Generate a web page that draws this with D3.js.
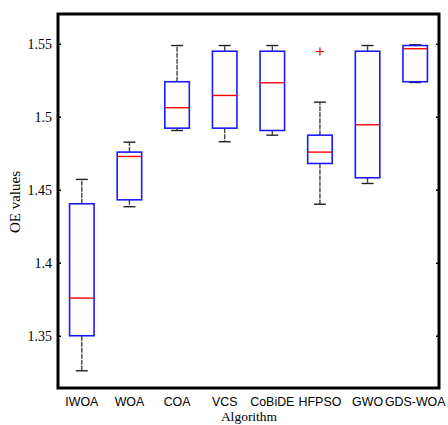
<!DOCTYPE html>
<html lang="en">
<head>
<meta charset="UTF-8">
<title>OE values boxplot</title>
<script src="https://d3js.org/d3.v7.min.js"></script>
<style>
  body { margin: 0; background: #fff; }
  svg { display: block; }
  .serif { font-family: "Liberation Serif", "Times New Roman", serif; }
  .sans { font-family: "Liberation Sans", Arial, sans-serif; }
</style>
</head>
<body>
<svg id="chart" width="448" height="425"></svg>
<script>
// data
const algorithms = ['IWOA', 'WOA', 'COA', 'VCS', 'CoBiDE', 'HFPSO', 'GWO', 'GDS-WOA'];
const whiskerLow = [1.326, 1.4384, 1.4906, 1.4829, 1.4874, 1.4401, 1.4543, 1.5235];
const q1 = [1.350, 1.4431, 1.4922, 1.4922, 1.4906, 1.4680, 1.4582, 1.5240];
const medians = [1.3758, 1.4728, 1.5062, 1.5146, 1.5233, 1.4758, 1.4945, 1.5466];
const q3 = [1.4404, 1.4758, 1.5240, 1.5449, 1.5449, 1.4874, 1.5449, 1.5488];
const whiskerHigh = [1.4571, 1.4826, 1.5488, 1.5488, 1.5488, 1.5100, 1.5488, 1.5493];
const outliers = [{ alg: 'HFPSO', value: 1.5447 }];
const yTicks = [1.35, 1.4, 1.45, 1.5, 1.55];

const svg = d3.select('#chart');
const mLeft = 58, mRight = 439, mTop = 14, mBottom = 388;

const x = d3.scaleBand().domain(algorithms).range([mLeft, mRight]);
const y = d3.scaleLinear().domain([1.3142, 1.5704]).range([mBottom, mTop]);
const boxW = 24.5, capW = 12;

const boxes = algorithms.map((a, i) => ({
  name: a, lo: whiskerLow[i], q1: q1[i], med: medians[i], q3: q3[i], hi: whiskerHigh[i]
}));

const g = svg.append('g');
const cx = d => x(d.name) + x.bandwidth() / 2;

// whiskers (fine dashes)
g.selectAll('.wh-up').data(boxes).join('line')
  .attr('x1', cx).attr('x2', cx)
  .attr('y1', d => y(d.q3)).attr('y2', d => y(d.hi))
  .attr('stroke', '#444').attr('stroke-width', 1.4).attr('stroke-dasharray', '5,1');
g.selectAll('.wh-dn').data(boxes).join('line')
  .attr('x1', cx).attr('x2', cx)
  .attr('y1', d => y(d.q1)).attr('y2', d => y(d.lo))
  .attr('stroke', '#444').attr('stroke-width', 1.4).attr('stroke-dasharray', '5,1');

// caps
['hi', 'lo'].forEach(k => {
  g.selectAll('.cap-' + k).data(boxes).join('line')
    .attr('x1', d => cx(d) - capW / 2).attr('x2', d => cx(d) + capW / 2)
    .attr('y1', d => y(d[k])).attr('y2', d => y(d[k]))
    .attr('stroke', '#222').attr('stroke-width', 1.4);
});

// boxes
g.selectAll('rect.box').data(boxes).join('rect')
  .attr('x', d => cx(d) - boxW / 2)
  .attr('y', d => y(d.q3))
  .attr('width', boxW)
  .attr('height', d => y(d.q1) - y(d.q3))
  .attr('fill', '#fff')
  .attr('stroke', '#1a1aff').attr('stroke-width', 1.6);

// medians
g.selectAll('.med').data(boxes).join('line')
  .attr('x1', d => cx(d) - boxW / 2).attr('x2', d => cx(d) + boxW / 2)
  .attr('y1', d => y(d.med)).attr('y2', d => y(d.med))
  .attr('stroke', '#ff0000').attr('stroke-width', 1.4);

// outliers as red plus
outliers.forEach(o => {
  const ox = x(o.alg) + x.bandwidth() / 2, oy = y(o.value);
  g.append('path')
    .attr('d', `M${ox - 4},${oy}H${ox + 4}M${ox},${oy - 4}V${oy + 4}`)
    .attr('stroke', '#ff0000').attr('stroke-width', 1.2).attr('fill', 'none');
});

// frame
svg.append('rect')
  .attr('x', mLeft).attr('y', mTop)
  .attr('width', mRight - mLeft).attr('height', mBottom - mTop)
  .attr('fill', 'none').attr('stroke', '#000').attr('stroke-width', 3);

// y ticks on both sides, pointing inward
const yAxisL = d3.axisLeft(y).tickValues(yTicks).tickSize(-3).tickPadding(6)
  .tickFormat(d => d3.format('')(d));
const gl = svg.append('g').attr('transform', `translate(${mLeft},0)`).call(yAxisL);
gl.attr('font-family', null).attr('font-size', null);
gl.select('.domain').remove();
gl.selectAll('line').attr('stroke-width', 1.5);
gl.selectAll('text').attr('class', 'serif')
  .style('font-size', '14px').attr('fill', '#000');

const yAxisR = d3.axisRight(y).tickValues(yTicks).tickSize(-3).tickFormat('');
const gr = svg.append('g').attr('transform', `translate(${mRight},0)`).call(yAxisR);
gr.select('.domain').remove();
gr.selectAll('line').attr('stroke-width', 1.5);

// x labels
const xAxis = d3.axisBottom(x).tickSize(0).tickPadding(9);
const gx = svg.append('g').attr('transform', `translate(0,${mBottom})`).call(xAxis);
gx.attr('font-family', null).attr('font-size', null);
gx.select('.domain').remove();
gx.selectAll('text').attr('class', 'sans')
  .style('font-size', '12.4px').attr('fill', '#000');

// axis titles
svg.append('text').attr('class', 'serif')
  .attr('x', (mLeft + mRight) / 2 + 0.5).attr('y', 421)
  .attr('text-anchor', 'middle')
  .style('font-size', '13.5px').text('Algorithm');

svg.append('text').attr('class', 'serif')
  .attr('transform', 'translate(20,202) rotate(-90)')
  .attr('text-anchor', 'middle')
  .style('font-size', '15px').text('OE values');
</script>
</body>
</html>
